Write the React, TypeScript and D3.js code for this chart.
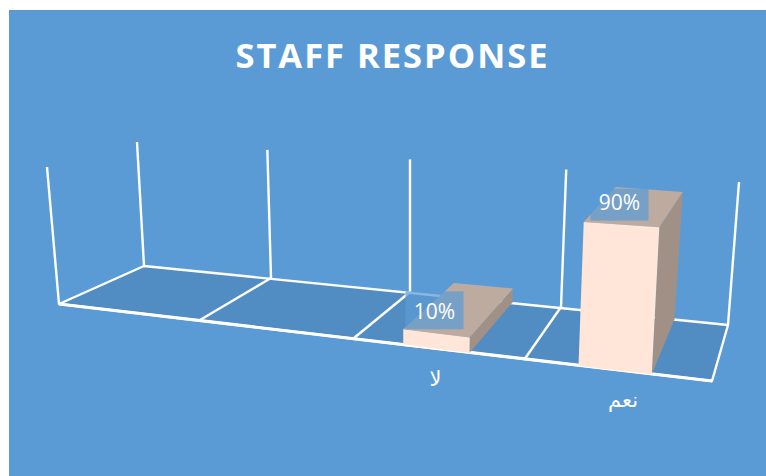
import React from "react";
import * as d3 from "d3";

// Chart content
const chartTitle = "STAFF RESPONSE";
const categories = ["", " ", "لا", "نعم"];
const responseValues = [null, null, 10, 90];
const valueLabels = ["", "", "10%", "90%"];
const valueAxisMax = 100;

const width = 766;
const height = 476;

// Oblique floor: each scale maps a position along the category axis to the screen
const cellEdges = [0, 1, 2, 3, 4];
const frontX = d3.scaleLinear().domain(cellEdges).range([59, 200, 354, 524, 712]);
const frontY = d3.scaleLinear().domain(cellEdges).range([304, 320, 338, 360, 381]);
const backX = d3.scaleLinear().domain(cellEdges).range([144, 271, 410, 561, 728]);
const backY = d3.scaleLinear().domain(cellEdges).range([266, 278, 292, 307, 325]);

// Vertical reach of the full value axis, which grows toward the right and the viewer
const frontReach = d3.scaleLinear().domain([59, 712]).range([137, 166]);
const backReach = d3.scaleLinear().domain([144, 728]).range([124, 143]);
const lean = d3.scaleLinear().domain([59, 144, 410, 728]).range([-12, -7, 0, 11]);

const band = d3
  .scaleBand<string>()
  .domain(categories)
  .range([0, 4])
  .paddingInner(0.61)
  .paddingOuter(0.305)
  .align(0.475);

type Pt = [number, number];

// u: along the category axis, depth: 0 front to 1 back, value: height on the value axis
function project(u: number, depth: number, value: number): Pt {
  const x0 = frontX(u) + (backX(u) - frontX(u)) * depth;
  const y0 = frontY(u) + (backY(u) - frontY(u)) * depth;
  const reach = frontReach(x0) + (backReach(x0) - frontReach(x0)) * depth;
  const t = value / valueAxisMax;
  return [x0 + lean(x0) * t, y0 - reach * t];
}

const polygon = (pts: Pt[]) => pts.map((p) => p.join(",")).join(" ");

const colors = {
  panel: "#5B9BD5",
  floor: "#518DC3",
  grid: "#FFFFFF",
  front: "#FFE6D8",
  top: "#BDABA0",
  side: "#A09086",
  labelBox: "rgba(91,155,213,0.72)",
};

const labelBoxWidth = 58;
const labelBoxHeights = [0, 0, 38, 32];
const uiFont = "'Open Sans', sans-serif";

export default function App() {
  const floorCorners: Pt[] = [
    project(0, 0, 0),
    project(0, 1, 0),
    project(4, 1, 0),
    project(4, 0, 0),
  ];

  return (
    <svg
      width={width}
      height={height}
      viewBox={`0 0 ${width} ${height}`}
      style={{ position: "absolute", left: 0, top: 0, background: "#fff" }}
    >
      <rect x={9} y={10} width={width - 9} height={height - 10} fill={colors.panel} />

      <text
        x={392.5}
        y={68}
        textAnchor="middle"
        fill="#fff"
        fontFamily={uiFont}
        fontWeight={700}
        fontSize={34.5}
        letterSpacing={2}
      >
        {chartTitle}
      </text>

      {/* Floor and its divisions */}
      <polygon points={polygon(floorCorners)} fill={colors.floor} />
      {cellEdges.slice(1, -1).map((u) => {
        const a = project(u, 0, 0);
        const b = project(u, 1, 0);
        return (
          <line key={u} x1={a[0]} y1={a[1]} x2={b[0]} y2={b[1]} stroke={colors.grid} strokeWidth={2.4} />
        );
      })}
      <polygon
        points={polygon(floorCorners)}
        fill="none"
        stroke={colors.grid}
        strokeWidth={2.4}
        strokeLinejoin="round"
      />
      <line
        x1={floorCorners[0][0]}
        y1={floorCorners[0][1]}
        x2={floorCorners[3][0]}
        y2={floorCorners[3][1]}
        stroke={colors.grid}
        strokeWidth={3.2}
      />

      {/* Wall gridlines rising from the back edge and the left front corner */}
      {[[0, 0] as Pt, ...cellEdges.map((u) => [u, 1] as Pt)].map(([u, depth]) => {
        const a = project(u, depth, 0);
        const b = project(u, depth, valueAxisMax);
        return (
          <line
            key={`${u}-${depth}`}
            x1={a[0]}
            y1={a[1]}
            x2={b[0]}
            y2={b[1]}
            stroke={colors.grid}
            strokeWidth={2.4}
          />
        );
      })}

      {/* Columns */}
      {categories.map((c, i) => {
        const value = responseValues[i];
        if (value == null) return null;
        const u0 = band(c)!;
        const u1 = u0 + band.bandwidth();
        return (
          <g key={c}>
            <polygon
              points={polygon([project(u1, 0, 0), project(u1, 1, 0), project(u1, 1, value), project(u1, 0, value)])}
              fill={colors.side}
            />
            <polygon
              points={polygon([project(u0, 0, value), project(u0, 1, value), project(u1, 1, value), project(u1, 0, value)])}
              fill={colors.top}
            />
            <polygon
              points={polygon([project(u0, 0, 0), project(u1, 0, 0), project(u1, 0, value), project(u0, 0, value)])}
              fill={colors.front}
            />
          </g>
        );
      })}

      {/* Value labels sit on a translucent box above the front top edge */}
      {categories.map((c, i) => {
        const value = responseValues[i];
        if (value == null) return null;
        const uMid = band(c)! + band.bandwidth() / 2;
        const [x, y] = project(uMid, 0, value);
        const cx = x - 2;
        const cy = y - 22;
        const boxHeight = labelBoxHeights[i];
        return (
          <g key={c}>
            <rect
              x={cx - labelBoxWidth / 2}
              y={y - 4 - boxHeight}
              width={labelBoxWidth}
              height={boxHeight}
              fill={colors.labelBox}
            />
            <text
              x={cx}
              y={cy}
              dy="0.36em"
              textAnchor="middle"
              fill="#fff"
              fontFamily={uiFont}
              fontSize={21}
            >
              {valueLabels[i]}
            </text>
          </g>
        );
      })}

      {/* Category labels below the front edge */}
      {categories.map((c) => {
        if (!c.trim()) return null;
        const uMid = band(c)! + band.bandwidth() / 2;
        const [x, y] = project(uMid, 0, 0);
        return (
          <text
            key={c}
            x={x + 0.05 * (x - 456)}
            y={y + 37}
            textAnchor="middle"
            fill="#fff"
            fontFamily="'DejaVu Sans', sans-serif"
            fontSize={21}
            letterSpacing={c.length > 2 ? 7 : 0}
          >
            {c}
          </text>
        );
      })}
    </svg>
  );
}
